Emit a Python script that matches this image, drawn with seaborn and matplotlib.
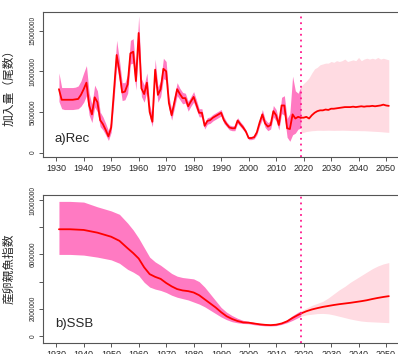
import numpy as np
import pandas as pd
import matplotlib
matplotlib.use("Agg")
import matplotlib.pyplot as plt
import seaborn as sns

# ---- Recruitment (million fish), estimated period ----
rec_years = list(range(1931, 2020))
rec = [7.8, 6.5, 6.5, 6.5, 6.5, 6.5, 6.55, 6.6, 7.1, 7.8,
       8.6, 5.8, 4.7, 6.8, 6.2, 4.0, 3.5, 2.8, 2.0, 3.1,
       7.5, 12.0, 10.0, 7.4, 7.5, 8.4, 12.2, 12.4, 8.8, 14.7,
       7.9, 7.2, 8.6, 5.0, 3.8, 10.2, 7.1, 7.8, 10.3, 10.0,
       6.1, 4.6, 6.2, 7.8, 7.2, 6.7, 6.7, 5.7, 6.3, 6.85,
       5.9, 4.9, 4.9, 3.3, 3.9, 4.0, 4.3, 4.5, 4.7, 4.9,
       4.0, 3.5, 3.1, 3.0, 3.0, 3.95, 3.5, 3.1, 2.6, 1.8,
       1.8, 1.9, 2.5, 3.7, 4.7, 3.6, 3.2, 3.4, 5.1, 4.6,
       3.4, 5.8, 5.8, 3.0, 2.9, 4.7, 4.2, 4.4, 4.3]
rec_hi = [9.8, 8.0, 8.0, 8.0, 8.0, 8.0, 8.05, 8.2, 8.8, 9.8,
          10.7, 7.3, 5.9, 8.3, 7.6, 5.0, 4.4, 3.6, 2.7, 4.0,
          9.0, 13.8, 11.4, 8.6, 8.6, 9.6, 13.8, 14.0, 10.0, 16.8,
          9.1, 8.3, 9.8, 5.9, 4.5, 11.5, 8.1, 8.8, 11.6, 11.2,
          6.9, 5.3, 7.0, 8.6, 7.9, 7.4, 7.3, 6.3, 6.9, 7.5,
          6.5, 5.4, 5.4, 3.7, 4.3, 4.4, 4.7, 4.9, 5.1, 5.3,
          4.4, 3.8, 3.4, 3.3, 3.3, 4.3, 3.8, 3.4, 2.8, 2.0,
          2.0, 2.1, 2.8, 4.1, 5.3, 4.1, 3.7, 3.9, 5.8, 5.3,
          4.0, 6.8, 7.0, 4.2, 4.8, 9.4, 7.6, 7.3, 8.1]
rec_lo = [6.3, 5.4, 5.3, 5.3, 5.3, 5.3, 5.35, 5.4, 5.7, 6.2,
          7.0, 4.6, 3.7, 5.6, 5.0, 3.2, 2.8, 2.2, 1.5, 2.5,
          6.3, 10.7, 8.8, 6.4, 6.5, 7.3, 10.9, 11.0, 7.7, 13.0,
          6.9, 6.2, 7.5, 4.3, 3.2, 9.0, 6.2, 6.9, 9.1, 8.9,
          5.4, 4.0, 5.5, 7.0, 6.5, 6.0, 6.1, 5.1, 5.7, 6.2,
          5.3, 4.4, 4.4, 2.9, 3.5, 3.6, 3.9, 4.1, 4.3, 4.5,
          3.6, 3.2, 2.8, 2.7, 2.7, 3.6, 3.2, 2.8, 2.4, 1.6,
          1.6, 1.7, 2.2, 3.3, 4.1, 3.1, 2.7, 2.9, 4.4, 3.9,
          2.8, 4.8, 4.6, 1.9, 1.4, 2.2, 2.4, 2.9, 3.0]

# ---- Recruitment, projection ----
proj_years = list(range(2019, 2052))
rec_proj = [4.3, 4.3, 4.4, 4.2, 4.6, 4.9, 5.1, 5.2, 5.2, 5.3,
            5.25, 5.4, 5.4, 5.45, 5.5, 5.55, 5.6, 5.6, 5.6, 5.65,
            5.6, 5.65, 5.7, 5.65, 5.7, 5.7, 5.75, 5.7, 5.75, 5.8,
            5.9, 5.8, 5.75]
rec_proj_hi = [8.1, 8.5, 8.8, 9.2, 9.8, 10.3, 10.5, 10.8, 10.9, 11.0,
               11.0, 11.2, 11.1, 11.3, 11.2, 11.3, 11.5, 11.2, 11.3, 11.4,
               11.3, 11.7, 11.3, 11.5, 11.6, 11.5, 11.6, 11.5, 11.7, 11.5,
               11.6, 11.5, 11.4]
rec_proj_lo = [2.4, 2.5, 2.6, 2.65, 2.7, 2.72, 2.75, 2.75, 2.74, 2.75,
               2.76, 2.75, 2.74, 2.75, 2.75, 2.76, 2.75, 2.74, 2.73, 2.72,
               2.72, 2.71, 2.7, 2.7, 2.68, 2.66, 2.64, 2.62, 2.6, 2.58,
               2.55, 2.52, 2.5]

# ---- SSB index (million), estimated period ----
ssb_years = [1931, 1935, 1940, 1945, 1950, 1953, 1956, 1958, 1960, 1962,
             1964, 1966, 1968, 1970, 1972, 1974, 1976, 1978, 1980, 1982,
             1984, 1986, 1988, 1990, 1992, 1994, 1996, 1998, 2000, 2002,
             2004, 2006, 2008, 2010, 2012, 2014, 2016, 2018, 2019]
ssb = [7.85, 7.85, 7.8, 7.6, 7.3, 7.0, 6.45, 6.1, 5.7, 5.05,
       4.55, 4.35, 4.2, 3.9, 3.65, 3.45, 3.35, 3.3, 3.2, 3.0,
       2.7, 2.4, 2.1, 1.75, 1.45, 1.25, 1.1, 1.0, 0.98, 0.92,
       0.86, 0.82, 0.8, 0.83, 0.92, 1.08, 1.33, 1.55, 1.65]
ssb_hi = [9.9, 9.9, 9.85, 9.5, 9.2, 8.95, 8.3, 7.8, 7.2, 6.5,
          5.8, 5.45, 5.2, 4.9, 4.6, 4.4, 4.3, 4.25, 4.2, 4.0,
          3.6, 3.1, 2.6, 2.1, 1.75, 1.5, 1.3, 1.15, 1.08, 1.0,
          0.93, 0.87, 0.85, 0.88, 0.98, 1.2, 1.5, 1.75, 1.85]
ssb_lo = [6.0, 6.0, 5.95, 5.8, 5.6, 5.35, 4.9, 4.7, 4.45, 3.95,
          3.6, 3.45, 3.35, 3.2, 3.0, 2.85, 2.75, 2.65, 2.5, 2.35,
          2.15, 1.9, 1.65, 1.4, 1.2, 1.05, 0.97, 0.92, 0.9, 0.83,
          0.78, 0.75, 0.74, 0.76, 0.85, 0.98, 1.15, 1.35, 1.45]

# ---- SSB, projection ----
ssb_proj_years = [2019, 2021, 2023, 2025, 2027, 2029, 2031, 2033, 2035,
                  2037, 2039, 2041, 2043, 2045, 2047, 2049, 2051]
ssb_proj = [1.65, 1.82, 1.95, 2.05, 2.14, 2.21, 2.28, 2.34, 2.39,
            2.44, 2.5, 2.56, 2.63, 2.72, 2.8, 2.87, 2.93]
ssb_proj_hi = [1.85, 2.05, 2.25, 2.4, 2.55, 2.8, 3.1, 3.4, 3.65,
               3.95, 4.2, 4.45, 4.7, 4.95, 5.15, 5.3, 5.4]
ssb_proj_lo = [1.45, 1.55, 1.6, 1.65, 1.66, 1.63, 1.55, 1.45, 1.35,
               1.25, 1.17, 1.1, 1.06, 1.04, 1.02, 1.0, 0.98]

current_year = 2019
xticks = list(range(1930, 2060, 10))

sns.set_style("ticks")
plt.rcParams['font.family'] = ['Liberation Sans', 'DejaVu Sans']

hist_col = "#FF7AC2"
proj_col = "#FFDBE2"
line_col = "#FF0000"
vline_col = "#FF1A8C"
spine_col = "#555555"
narrow = ['Liberation Sans Narrow', 'Liberation Sans']

fig = plt.figure(figsize=(3.98, 3.54), dpi=100)
W, H = 398, 354
ax1 = fig.add_axes([43 / W, 1 - 157 / H, 359 / W, 145 / H])
ax2 = fig.add_axes([43 / W, 1 - 343 / H, 359 / W, 148 / H])


def draw(ax, yrs, val, lo, hi, pyrs, pval, plo, phi, scale):
    ax.fill_between(pyrs, np.array(plo) * scale, np.array(phi) * scale,
                    color=proj_col, lw=0)
    ax.fill_between(yrs, np.array(lo) * scale, np.array(hi) * scale,
                    color=hist_col, lw=0)
    d1 = pd.DataFrame({"year": yrs, "v": np.array(val) * scale})
    d2 = pd.DataFrame({"year": pyrs, "v": np.array(pval) * scale})
    sns.lineplot(data=d1, x="year", y="v", ax=ax, color=line_col, lw=1.3)
    sns.lineplot(data=d2, x="year", y="v", ax=ax, color=line_col, lw=1.3)
    ax.axvline(current_year, color=vline_col, lw=1.3, ls=(0, (1, 2.2)))
    ax.set_xlim(1925.2, 2055.8)
    ax.set_xticks(xticks)
    ax.set_xlabel("")
    for s in ["left", "top", "bottom"]:
        ax.spines[s].set_color(spine_col)
        ax.spines[s].set_linewidth(0.8)
    ax.spines["right"].set_visible(False)
    ax.tick_params(axis="x", length=3, width=0.7, color=spine_col, pad=2,
                   labelsize=6.5)
    ax.tick_params(axis="y", length=3, width=0.7, color=spine_col, pad=1.5,
                   labelsize=4.8)
    for t in ax.get_xticklabels():
        t.set_family(narrow)


M = 1e6
draw(ax1, rec_years, rec, rec_lo, rec_hi,
     proj_years, rec_proj, rec_proj_lo, rec_proj_hi, M)
ax1.set_ylim(-0.53e6, 17.28e6)
ax1.set_yticks([0, 5e6, 10e6, 15e6])
ax1.set_yticklabels(["0", "5000000", "10000000", "15000000"],
                    rotation=90, va="center")

draw(ax2, ssb_years, ssb, ssb_lo, ssb_hi,
     ssb_proj_years, ssb_proj, ssb_proj_lo, ssb_proj_hi, M)
ax2.set_ylim(-0.515e6, 10.37e6)
ax2.set_yticks([0, 2e6, 4e6, 6e6, 8e6, 10e6])
ax2.set_yticklabels(["0", "2000000", "", "6000000", "", "10000000"],
                    rotation=90, va="center")

jp = ['Noto Sans CJK JP', 'DejaVu Sans']
ax1.set_ylabel("加入量（尾数）", family=jp, fontsize=8.5)
ax2.set_ylabel("産卵親魚指数", family=jp, fontsize=8.5)
for ax in (ax1, ax2):
    ax.yaxis.set_label_coords(-28 / 359, 0.5)

ax1.text(1929.5, 0.9e6, "a)Rec", fontsize=9.5, va="bottom", family=narrow)
ax2.text(1929.5, 0.45e6, "b)SSB", fontsize=9.5, va="bottom", family=narrow)

fig.savefig("out.png", dpi=100)
